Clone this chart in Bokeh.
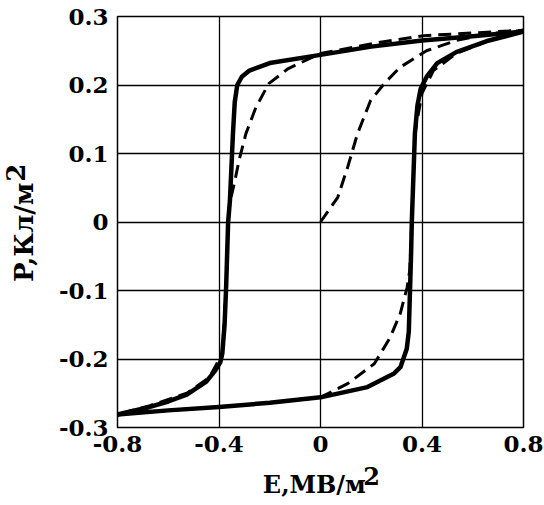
from bokeh.plotting import figure
from bokeh.models import Range1d, FixedTicker, LinearAxis
from bokeh.embed import file_html
from bokeh.resources import INLINE

# ---- data ----
# solid loop, upper (descending) branch
E_up = [0.8, 0.6, 0.4, 0.2, 0.0, -0.2, -0.28, -0.31, -0.328, -0.338, -0.345, -0.357, -0.364,
        -0.372, -0.378, -0.387, -0.395, -0.415, -0.45, -0.527, -0.6, -0.672, -0.8]
P_up = [0.278, 0.271, 0.265, 0.256, 0.244, 0.232, 0.221, 0.212, 0.200, 0.175, 0.129, 0.031, 0.0,
        -0.096, -0.150, -0.192, -0.205, -0.217, -0.233, -0.252, -0.262, -0.270, -0.281]
# solid loop, lower (ascending) branch
E_lo = [-0.8, -0.6, -0.4, -0.2, 0.0, 0.185, 0.29, 0.315, 0.34, 0.348, 0.357, 0.36, 0.372,
        0.382, 0.395, 0.42, 0.46, 0.535, 0.664, 0.8]
P_lo = [-0.281, -0.275, -0.270, -0.264, -0.256, -0.241, -0.221, -0.212, -0.185, -0.160, -0.046, 0.002, 0.129,
        0.170, 0.195, 0.213, 0.232, 0.248, 0.265, 0.278]
# dashed curve: initial curve from the origin, then its own loop
E_dash = [0.0, 0.068, 0.107, 0.146, 0.197, 0.251, 0.314, 0.418, 0.535, 0.664, 0.8,
          0.6, 0.407, 0.212, 0.0, -0.127, -0.204, -0.255, -0.294, -0.321, -0.337, -0.35, -0.357, -0.364,
          -0.372, -0.387, -0.438, -0.527, -0.672, -0.8,
          -0.6, -0.4, -0.2, 0.0, 0.107, 0.212, 0.274, 0.314, 0.341, 0.352, 0.36, 0.372, 0.4, 0.445,
          0.535, 0.664, 0.8]
P_dash = [0.0, 0.036, 0.080, 0.129, 0.177, 0.202, 0.226, 0.250, 0.265, 0.275, 0.280,
          0.276, 0.272, 0.261, 0.246, 0.224, 0.202, 0.167, 0.129, 0.090, 0.061, 0.040, 0.031, 0.0,
          -0.096, -0.192, -0.227, -0.250, -0.268, -0.281,
          -0.275, -0.270, -0.264, -0.256, -0.236, -0.207, -0.169, -0.134, -0.096, -0.070, 0.002, 0.129, 0.188, 0.221,
          0.246, 0.265, 0.280]

x_ticks = [-0.8, -0.4, 0, 0.4, 0.8]
x_tick_labels = ["-0.8", "-0.4", "0", "0.4", "0.8"]
y_ticks = [-0.3, -0.2, -0.1, 0, 0.1, 0.2, 0.3]
y_tick_labels = ["-0.3", "-0.2", "-0.1", "0", "0.1", "0.2", "0.3"]

x_title = "E,МВ/м"
y_title = "P,Кл/м"
title_sup = "2"
# where the axis titles sit along their axes (data units)
x_title_pos, x_sup_pos = -0.024, 0.201
y_title_pos, y_sup_pos = -0.015, 0.072

FONT = "DejaVu Serif"

p = figure(frame_width=406, frame_height=411, output_backend="svg", toolbar_location=None,
           x_range=Range1d(-0.8, 0.8), y_range=Range1d(-0.3, 0.3),
           min_border_left=117, min_border_right=21, min_border_top=16, min_border_bottom=78)
p.background_fill_color = "white"
p.border_fill_color = "white"
p.outline_line_color = "black"
p.outline_line_width = 1.5


def style_axis(ax, size):
    ax.axis_line_color = None
    ax.major_tick_line_color = None
    ax.minor_tick_line_color = None
    ax.major_tick_in = 0
    ax.major_tick_out = 0
    ax.minor_tick_in = 0
    ax.minor_tick_out = 0
    ax.major_label_text_font = FONT
    ax.major_label_text_font_style = "bold"
    ax.major_label_text_font_size = size
    ax.major_label_text_color = "black"


style_axis(p.xaxis[0], "23px")
style_axis(p.yaxis[0], "23px")
p.xaxis[0].ticker = FixedTicker(ticks=x_ticks)
p.xaxis[0].major_label_overrides = {t: s for t, s in zip(x_ticks, x_tick_labels)}
p.xaxis[0].major_label_standoff = 8
p.yaxis[0].ticker = FixedTicker(ticks=y_ticks)
p.yaxis[0].major_label_overrides = {t: s for t, s in zip(y_ticks, y_tick_labels)}
p.yaxis[0].major_label_standoff = 9

# axis titles as labels of extra (line-less) axes, so the "2" can be raised
ax_xt = LinearAxis(ticker=FixedTicker(ticks=[x_title_pos]),
                   major_label_overrides={x_title_pos: x_title})
style_axis(ax_xt, "24px")
ax_xt.major_label_standoff = 15
ax_xs = LinearAxis(ticker=FixedTicker(ticks=[x_sup_pos]),
                   major_label_overrides={x_sup_pos: title_sup})
style_axis(ax_xs, "24px")
ax_xs.major_label_standoff = -35
p.add_layout(ax_xt, "below")
p.add_layout(ax_xs, "below")

ax_yt = LinearAxis(ticker=FixedTicker(ticks=[y_title_pos]),
                   major_label_overrides={y_title_pos: y_title})
style_axis(ax_yt, "26px")
ax_yt.major_label_orientation = "parallel"
ax_yt.major_label_standoff = 16
ax_ys = LinearAxis(ticker=FixedTicker(ticks=[y_sup_pos]),
                   major_label_overrides={y_sup_pos: title_sup})
style_axis(ax_ys, "26px")
ax_ys.major_label_orientation = "parallel"
ax_ys.major_label_standoff = -19
p.add_layout(ax_yt, "left")
p.add_layout(ax_ys, "left")

p.xgrid.ticker = FixedTicker(ticks=x_ticks)
p.ygrid.ticker = FixedTicker(ticks=y_ticks)
for g in (p.xgrid[0], p.ygrid[0]):
    g.grid_line_color = "black"
    g.grid_line_width = 1.3
    g.grid_line_alpha = 1.0

# curves
p.line(E_dash, P_dash, line_color="black", line_width=3, line_dash="13 7")
p.line(E_up, P_up, line_color="black", line_width=4.5, line_join="round", line_cap="round")
p.line(E_lo, P_lo, line_color="black", line_width=4.5, line_join="round", line_cap="round")

open("out.html", "w").write(file_html(p, INLINE))
